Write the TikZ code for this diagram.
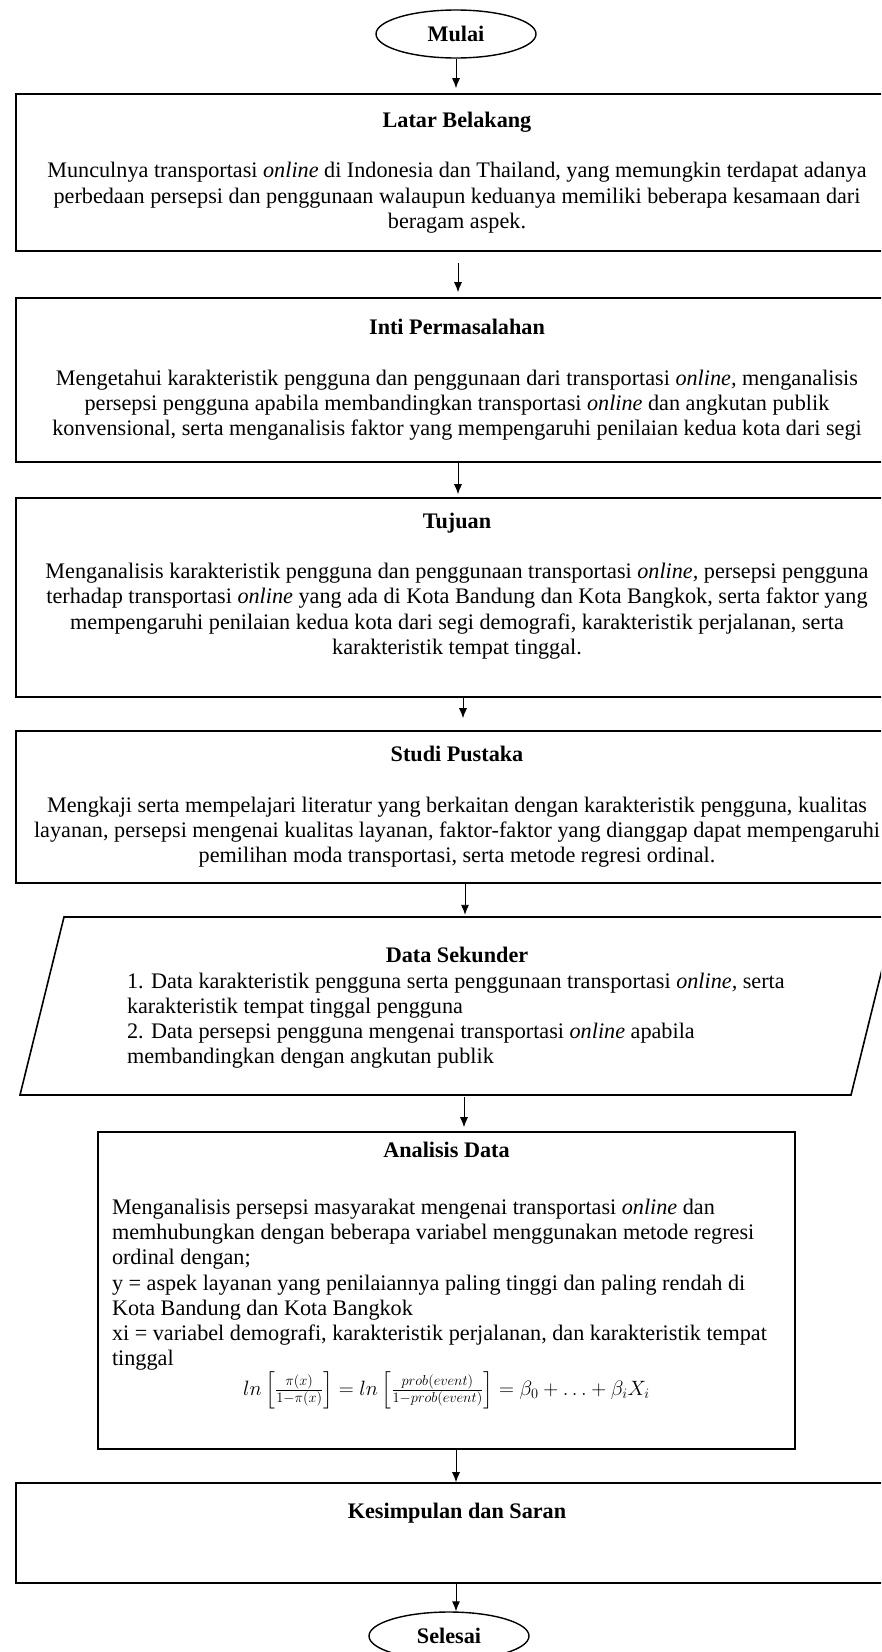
\documentclass[tikz,border=0pt]{standalone}
\usepackage{fontspec}
\setmainfont{Liberation Serif}
\usepackage{amsmath}
\usetikzlibrary{shapes.geometric, arrows.meta}

\begin{document}
\begin{tikzpicture}[x = 1pt, y = -1pt,
	every node/.style = {font = \fontsize{22.2}{25.2}\selectfont},
	proses/.style = {draw, line width = 1.6pt, rectangle, align = center, inner sep = 0pt},
	terminal/.style = {draw, line width = 1.4pt, ellipse, minimum width = 160pt, minimum height = 48pt, inner sep = 0pt},
	panah/.style = {line width = 0.9pt, -{Latex[length = 10pt, width = 8pt]}}]
	 \useasboundingbox (0, 0) rectangle (881, 1652);
	 \clip (0, 0) rectangle (881, 1652);
	 
	 \node[terminal] (mulai) at (456, 34) {\textbf{Mulai}};
	 
	 \node[proses, minimum width = 882, minimum height = 157] (latar) at (457, 172.5) {\textbf{Latar Belakang}\\[\baselineskip]
	 Munculnya transportasi \textit{online} di Indonesia dan Thailand, yang memungkin terdapat adanya\\
	 perbedaan persepsi dan penggunaan walaupun keduanya memiliki beberapa kesamaan dari\\
	 beragam aspek.};
	 
	 \node[proses, minimum width = 882, minimum height = 164] (inti) at (457, 380) {\textbf{Inti Permasalahan}\\[\baselineskip]
	 Mengetahui karakteristik pengguna dan penggunaan dari transportasi \textit{online,} menganalisis\\
	 persepsi pengguna apabila membandingkan transportasi \textit{online} dan angkutan publik\\
	 konvensional, serta menganalisis faktor yang mempengaruhi penilaian kedua kota dari segi};
	 
	 \node[proses, minimum width = 882, minimum height = 199] (tujuan) at (457, 597.5) {\textbf{Tujuan}\\[\baselineskip]
	 Menganalisis karakteristik pengguna dan penggunaan transportasi \textit{online,} persepsi pengguna\\
	 terhadap transportasi \textit{online} yang ada di Kota Bandung dan Kota Bangkok, serta faktor yang\\
	 mempengaruhi penilaian kedua kota dari segi demografi, karakteristik perjalanan, serta\\
	 karakteristik tempat tinggal.\rule[-28pt]{0pt}{0pt}};
	 
	 \node[proses, minimum width = 882, minimum height = 152] (studi) at (457, 807) {\textbf{Studi Pustaka}\\[\baselineskip]
	 Mengkaji serta mempelajari literatur yang berkaitan dengan karakteristik pengguna, kualitas\\
	 layanan, persepsi mengenai kualitas layanan, faktor-faktor yang dianggap dapat mempengaruhi\\
	 pemilihan moda transportasi, serta metode regresi ordinal.};
	 
	 \draw[line width = 1.6pt] (64, 917) -- (895, 917) -- (851, 1095) -- (20, 1095) -- cycle;
	 \node[text width = 660, minimum height = 178, align = flush left, inner sep = 0pt] (sekunder) at (457, 1008) {\makebox[\linewidth]{\textbf{Data Sekunder}}\\
	 1. Data karakteristik pengguna serta penggunaan transportasi \textit{online,} serta\\
	 karakteristik tempat tinggal pengguna\\
	 2. Data persepsi pengguna mengenai transportasi \textit{online} apabila\\
	 membandingkan dengan angkutan publik};
	 
	 \node[proses, minimum width = 697, minimum height = 317, text width = 669, align = flush left] (analisis) at (446.5, 1290.5) {\makebox[\linewidth]{\textbf{Analisis Data}}\\[\dimexpr\baselineskip+7pt\relax]
	 Menganalisis persepsi masyarakat mengenai transportasi \textit{online} dan\\
	 memhubungkan dengan beberapa variabel menggunakan metode regresi\\
	 ordinal dengan;\\
	 y = aspek layanan yang penilaiannya paling tinggi dan paling rendah di\\
	 Kota Bandung dan Kota Bangkok\\
	 xi = variabel demografi, karakteristik perjalanan, dan karakteristik tempat\\
	 tinggal\\
	 \makebox[\linewidth]{$ln\left[\frac{\pi(x)}{1-\pi(x)}\right] = ln\left[\frac{prob(event)}{1-prob(event)}\right] = \beta_0+\ldots+\beta_i X_i$}\rule[-44pt]{0pt}{0pt}};
	 
	 \node[proses, minimum width = 882, minimum height = 100] (kesimpulan) at (457, 1533) {\textbf{Kesimpulan dan Saran}\\ \rule[-20pt]{0pt}{0pt}};
	 
	 \node[terminal] (selesai) at (449, 1636) {\textbf{Selesai}};
	 
	 \draw[panah, shorten > = 5pt] (mulai.south) -- (mulai.south |- latar.north);
	 \draw[panah, shorten < = 11pt, shorten > = 5pt] ([xshift = 1pt]latar.south) -- ([xshift = 1pt]latar.south |- inti.north);
	 \draw[panah, shorten > = 3pt] ([xshift = 1pt]inti.south) -- ([xshift = 1pt]inti.south |- tujuan.north);
	 \draw[panah, shorten > = 12pt] ([xshift = 6pt]tujuan.south) -- ([xshift = 6pt]tujuan.south |- studi.north);
	 \draw[panah, shorten > = 4pt] ([xshift = 8pt]studi.south) -- ([xshift = 8pt]studi.south |- sekunder.north);
	 \draw[panah, shorten > = 4pt] ([xshift = 7pt]sekunder.south) -- ([xshift = 7pt]sekunder.south |- analisis.north);
	 \draw[panah] ([xshift = 9.5pt]analisis.south) -- ([xshift = 9.5pt]analisis.south |- kesimpulan.north);
	 \draw[panah] ([xshift = -1pt]kesimpulan.south) -- ([xshift = -1pt]kesimpulan.south |- selesai.north);
	 \end{tikzpicture}
\end{document}
